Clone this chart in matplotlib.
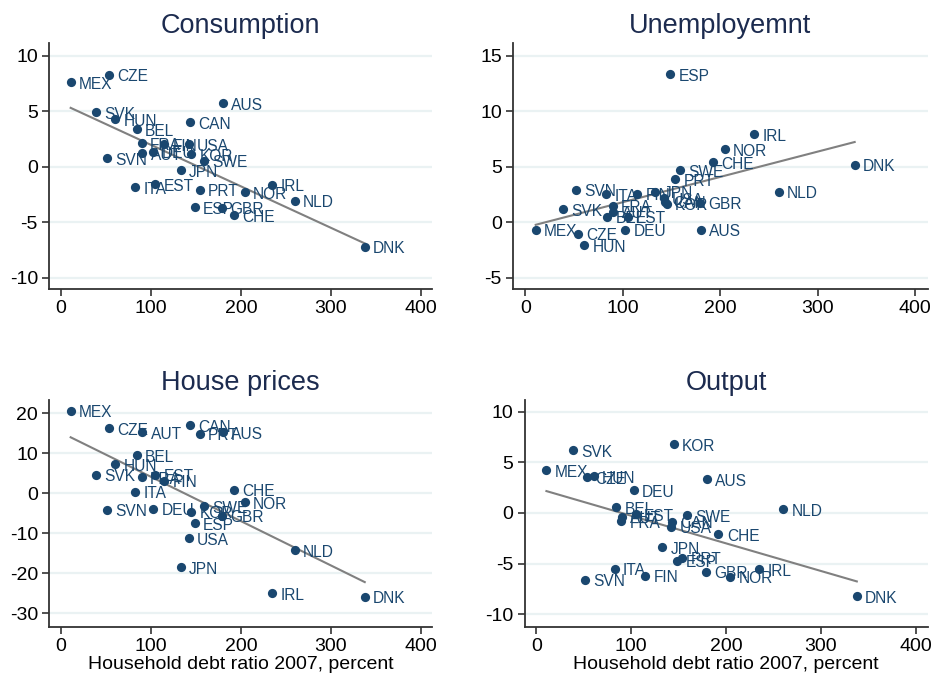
import numpy as np
import matplotlib
matplotlib.use("Agg")
import matplotlib.pyplot as plt

plt.rcParams['font.family'] = ['Liberation Sans', 'DejaVu Sans']
plt.rcParams['axes.unicode_minus'] = False

countries = ["MEX", "SVK", "SVN", "CZE", "HUN", "ITA", "BEL", "FRA", "AUT", "DEU",
             "EST", "FIN", "JPN", "USA", "CAN", "KOR", "ESP", "PRT", "SWE", "GBR",
             "AUS", "CHE", "NOR", "IRL", "NLD", "DNK"]
debt = [10.7, 38.5, 51.5, 53.7, 60.5, 82.7, 84.0, 89.6, 90.4, 102.6,
        105.0, 114.5, 133.0, 142.0, 143.3, 145.0, 148.8, 154.0, 158.8, 179.0,
        180.0, 192.0, 204.5, 234.5, 260.0, 337.8]
consumption = [7.6, 4.92, 0.75, 8.3, 4.29, -1.86, 3.39, 2.1, 1.2, 1.35,
               -1.59, 2.04, -0.3, 2.0, 4.0, 1.1, -3.66, -2.07, 0.54, -3.69,
               5.73, -4.35, -2.31, -1.62, -3.06, -7.2]
unemployment = [-0.69, 1.17, 2.91, -1.05, -2.1, 2.52, 0.51, 1.47, 0.96, -0.69,
                0.51, 2.55, 2.76, 2.16, 1.86, 1.65, 13.33, 3.87, 4.68, 1.74,
                -0.69, 5.4, 6.58, 7.9, 2.76, 5.16]
house_prices = [20.6, 4.67, -4.1, 16.2, 7.25, 0.4, 9.5, 4.0, 15.25, -3.9,
                4.67, 3.17, -18.5, -11.3, 17.0, -4.6, -7.5, 14.9, -3.2, -5.6,
                15.2, 0.9, -2.3, -25.0, -14.3, -25.9]
output = [4.21, 6.18, -6.58, 3.52, 3.62, -5.49, 0.56, -0.82, -0.36, 2.27,
          -0.13, -6.18, -3.39, -1.35, -0.86, 6.81, -4.7, -4.4, -0.2, -5.79,
          3.36, -2.1, -6.28, -5.56, 0.36, -8.19]

titles = ["Consumption", "Unemployemnt", "House prices", "Output"]
x_ticks = [0, 100, 200, 300, 400]
y_ticks_list = [[-10, -5, 0, 5, 10], [-5, 0, 5, 10, 15],
                [-30, -20, -10, 0, 10, 20], [-10, -5, 0, 5, 10]]
xlabel = "Household debt ratio 2007, percent"

W, H = 932, 677
boxes = [(49, 432, 43, 289), (513, 927.7, 43, 289),
         (49, 432, 400, 626.7), (524.7, 927.7, 400, 626.7)]
xlims = [(-13.4, 412.6), (-12.6, 412.7), (-13.4, 412.6), (-12.2, 412.5)]
ylims = [(-11.02, 11.14), (-6.02, 16.14), (-33.35, 23.3), (-11.22, 11.15)]

navy = "#1a476f"
series = [consumption, unemployment, house_prices, output]

fig = plt.figure(figsize=(W / 100, H / 100), dpi=100)
for i, (ys, title) in enumerate(zip(series, titles)):
    l, r, t, b = boxes[i]
    ax = fig.add_axes([l / W, 1 - b / H, (r - l) / W, (b - t) / H])
    ax.set_xlim(*xlims[i])
    ax.set_ylim(*ylims[i])
    for yt in y_ticks_list[i]:
        ax.axhline(yt, color="#eaf2f3", lw=1.6, zorder=0)
    x = np.array(debt)
    y = np.array(ys)
    coef = np.polyfit(x, y, 1)
    xs = np.array([x.min(), x.max()])
    ax.plot(xs, np.polyval(coef, xs), color="#808080", lw=1.5, zorder=2)
    ax.scatter(x, y, s=44, color=navy, zorder=3, linewidths=0)
    for c, xi, yi in zip(countries, x, y):
        ax.annotate(c, (xi, yi), xytext=(6, -1.5), textcoords="offset points",
                    ha="left", va="center", fontsize=11.2, color=navy, zorder=4)
    ax.set_xticks(x_ticks)
    ax.set_xticklabels([str(v) for v in x_ticks])
    ax.set_yticks(y_ticks_list[i])
    ax.set_yticklabels([str(v) for v in y_ticks_list[i]])
    ax.tick_params(axis="both", direction="out", length=5, width=1.2,
                   colors="#333333", labelcolor="black", labelsize=14, pad=3)
    for s in ["top", "right"]:
        ax.spines[s].set_visible(False)
    for s in ["left", "bottom"]:
        ax.spines[s].set_color("#333333")
        ax.spines[s].set_linewidth(1.3)
    ax.set_title(title, fontsize=19.5, color="#1c2b4f", pad=7)
    if i >= 2:
        ax.set_xlabel(xlabel, fontsize=14, color="black", labelpad=1)

fig.savefig("out.png", dpi=100, facecolor="white")
